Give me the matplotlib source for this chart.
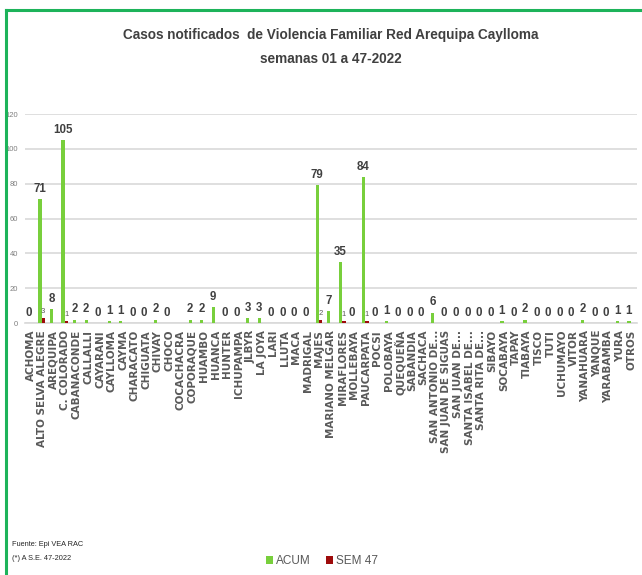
"""Casos notificados de Violencia Familiar - Red Arequipa Caylloma (SE 01-47, 2022)."""
import numpy as np
import matplotlib
matplotlib.use("Agg")
import matplotlib.pyplot as plt
from matplotlib.lines import Line2D

NARROW = ["Liberation Sans", "DejaVu Sans"]
GREEN, RED, FRAME = "#78cf3c", "#9e0b0b", "#1db35a"
GRID, DARK, MID = "#d9d9d9", "#404040", "#595959"

distritos = ["ACHOMA", "ALTO SELVA ALEGRE", "AREQUIPA", "C. COLORADO", "CABANACONDE",
             "CALLALLI", "CAYARANI", "CAYLLOMA", "CAYMA", "CHARACATO", "CHIGUATA",
             "CHIVAY", "CHOCO", "COCACHACRA", "COPORAQUE", "HUAMBO", "HUANCA",
             "HUNTER", "ICHUPAMPA", "JLBYR", "LA JOYA", "LARI", "LLUTA", "MACA",
             "MADRIGAL", "MAJES", "MARIANO MELGAR", "MIRAFLORES", "MOLLEBAYA",
             "PAUCARPATA", "POCSI", "POLOBAYA", "QUEQUEÑA", "SABANDIA", "SACHACA",
             "SAN ANTONIO DE...", "SAN JUAN DE SIGUAS", "SAN JUAN DE...",
             "SANTA ISABEL DE...", "SANTA RITA DE...", "SIBAYO", "SOCABAYA", "TAPAY",
             "TIABAYA", "TISCO", "TUTI", "UCHUMAYO", "VITOR", "YANAHUARA", "YANQUE",
             "YARABAMBA", "YURA", "OTROS"]
acum = [0, 71, 8, 105, 2, 2, 0, 1, 1, 0, 0, 2, 0, np.nan, 2, 2, 9, 0, 0, 3, 3,
        0, 0, 0, 0, 79, 7, 35, 0, 84, 0, 1, 0, 0, 0, 6, 0, 0, 0, 0, 0, 1, 0, 2,
        0, 0, 0, 0, 2, 0, 0, 1, 1]
sem47 = [0, 3, 0, 1, 0, 0, 0, 0, 0, 0, 0, 0, 0, 0, 0, 0, 0, 0, 0, 0, 0, 0, 0,
         0, 0, 2, 0, 1, 0, 1, 0, 0, 0, 0, 0, 0, 0, 0, 0, 0, 0, 0, 0, 0, 0, 0, 0,
         0, 0, 0, 0, 0, 0]
yticks = [0, 20, 40, 60, 80, 100, 120]

W, H = 642, 575
fig = plt.figure(figsize=(W / 100, H / 100), dpi=100)
ax = fig.add_axes([25 / W, 1 - 323 / H, 612 / W, 209 / H])

x = np.arange(len(distritos))
bw = 0.28
g = ax.bar(x - 0.2, acum, bw, color=GREEN, label="ACUM", zorder=3)
r = ax.bar(x + 0.12, sem47, bw, color=RED, label="SEM 47", zorder=3)

for xi, v in zip(x, acum):
    if np.isnan(v):
        continue
    ax.annotate(f"{v:.0f}", (xi - 0.2, v), xytext=(0, 3), textcoords="offset points",
                ha="center", va="bottom", fontsize=8.3, weight="bold", color=DARK,
                family=NARROW, annotation_clip=False)
for xi, v in zip(x, sem47):
    if v > 0:
        ax.annotate(f"{v}", (xi + 0.08, v), xytext=(0, 2), textcoords="offset points",
                    ha="center", va="bottom", fontsize=5.5, color=MID,
                    family=NARROW, annotation_clip=False)

ax.set_xlim(-0.5, len(distritos) - 0.5)
ax.set_ylim(0, 120)
ax.set_yticks(yticks)
ax.set_yticklabels([str(t) for t in yticks], fontsize=5.5, color="#7f7f7f", family=NARROW)
ax.set_xticks(x)
ax.set_xticklabels(distritos, rotation=90, fontsize=7.5, weight="bold", color=MID)
ax.tick_params(length=0)
ax.tick_params(axis="y", pad=5)
ax.tick_params(axis="x", pad=5)
ax.grid(axis="y", color=GRID, lw=1.2, zorder=0)
for s in ["top", "right", "left"]:
    ax.spines[s].set_visible(False)
ax.spines["bottom"].set_color(GRID)
ax.spines["bottom"].set_linewidth(1.2)

fig.text(331 / W, 1 - 35 / H, "Casos notificados  de Violencia Familiar Red Arequipa Caylloma",
         ha="center", va="center", fontsize=9.8, weight="bold", color=DARK, family=NARROW)
fig.text(331 / W, 1 - 59 / H, "semanas 01 a 47-2022",
         ha="center", va="center", fontsize=9.8, weight="bold", color=DARK, family=NARROW)

fig.text(12 / W, 1 - 545 / H, "Fuente: Epi VEA RAC", fontsize=5.3, color="#262626",
         family=NARROW, va="center")
fig.text(12 / W, 1 - 558 / H, "(*) A S.E. 47-2022", fontsize=5.3, color="#262626",
         family=NARROW, va="center")

leg = fig.legend(handles=[g, r], loc="center", bbox_to_anchor=(322 / W, 1 - 561 / H),
                 ncol=2, frameon=False, handlelength=0.6, handleheight=0.7,
                 handletextpad=0.25, columnspacing=1.3,
                 prop={"family": NARROW, "size": 8.5})
for t in leg.get_texts():
    t.set_color(MID)

# green frame, top and left edges
fig.add_artist(Line2D([6 / W, 1], [1 - 10 / H] * 2, color=FRAME, lw=2.2,
                      transform=fig.transFigure))
fig.add_artist(Line2D([6 / W] * 2, [0, 1 - 10 / H], color=FRAME, lw=2.2,
                      transform=fig.transFigure))

fig.savefig("out.png", dpi=100)
